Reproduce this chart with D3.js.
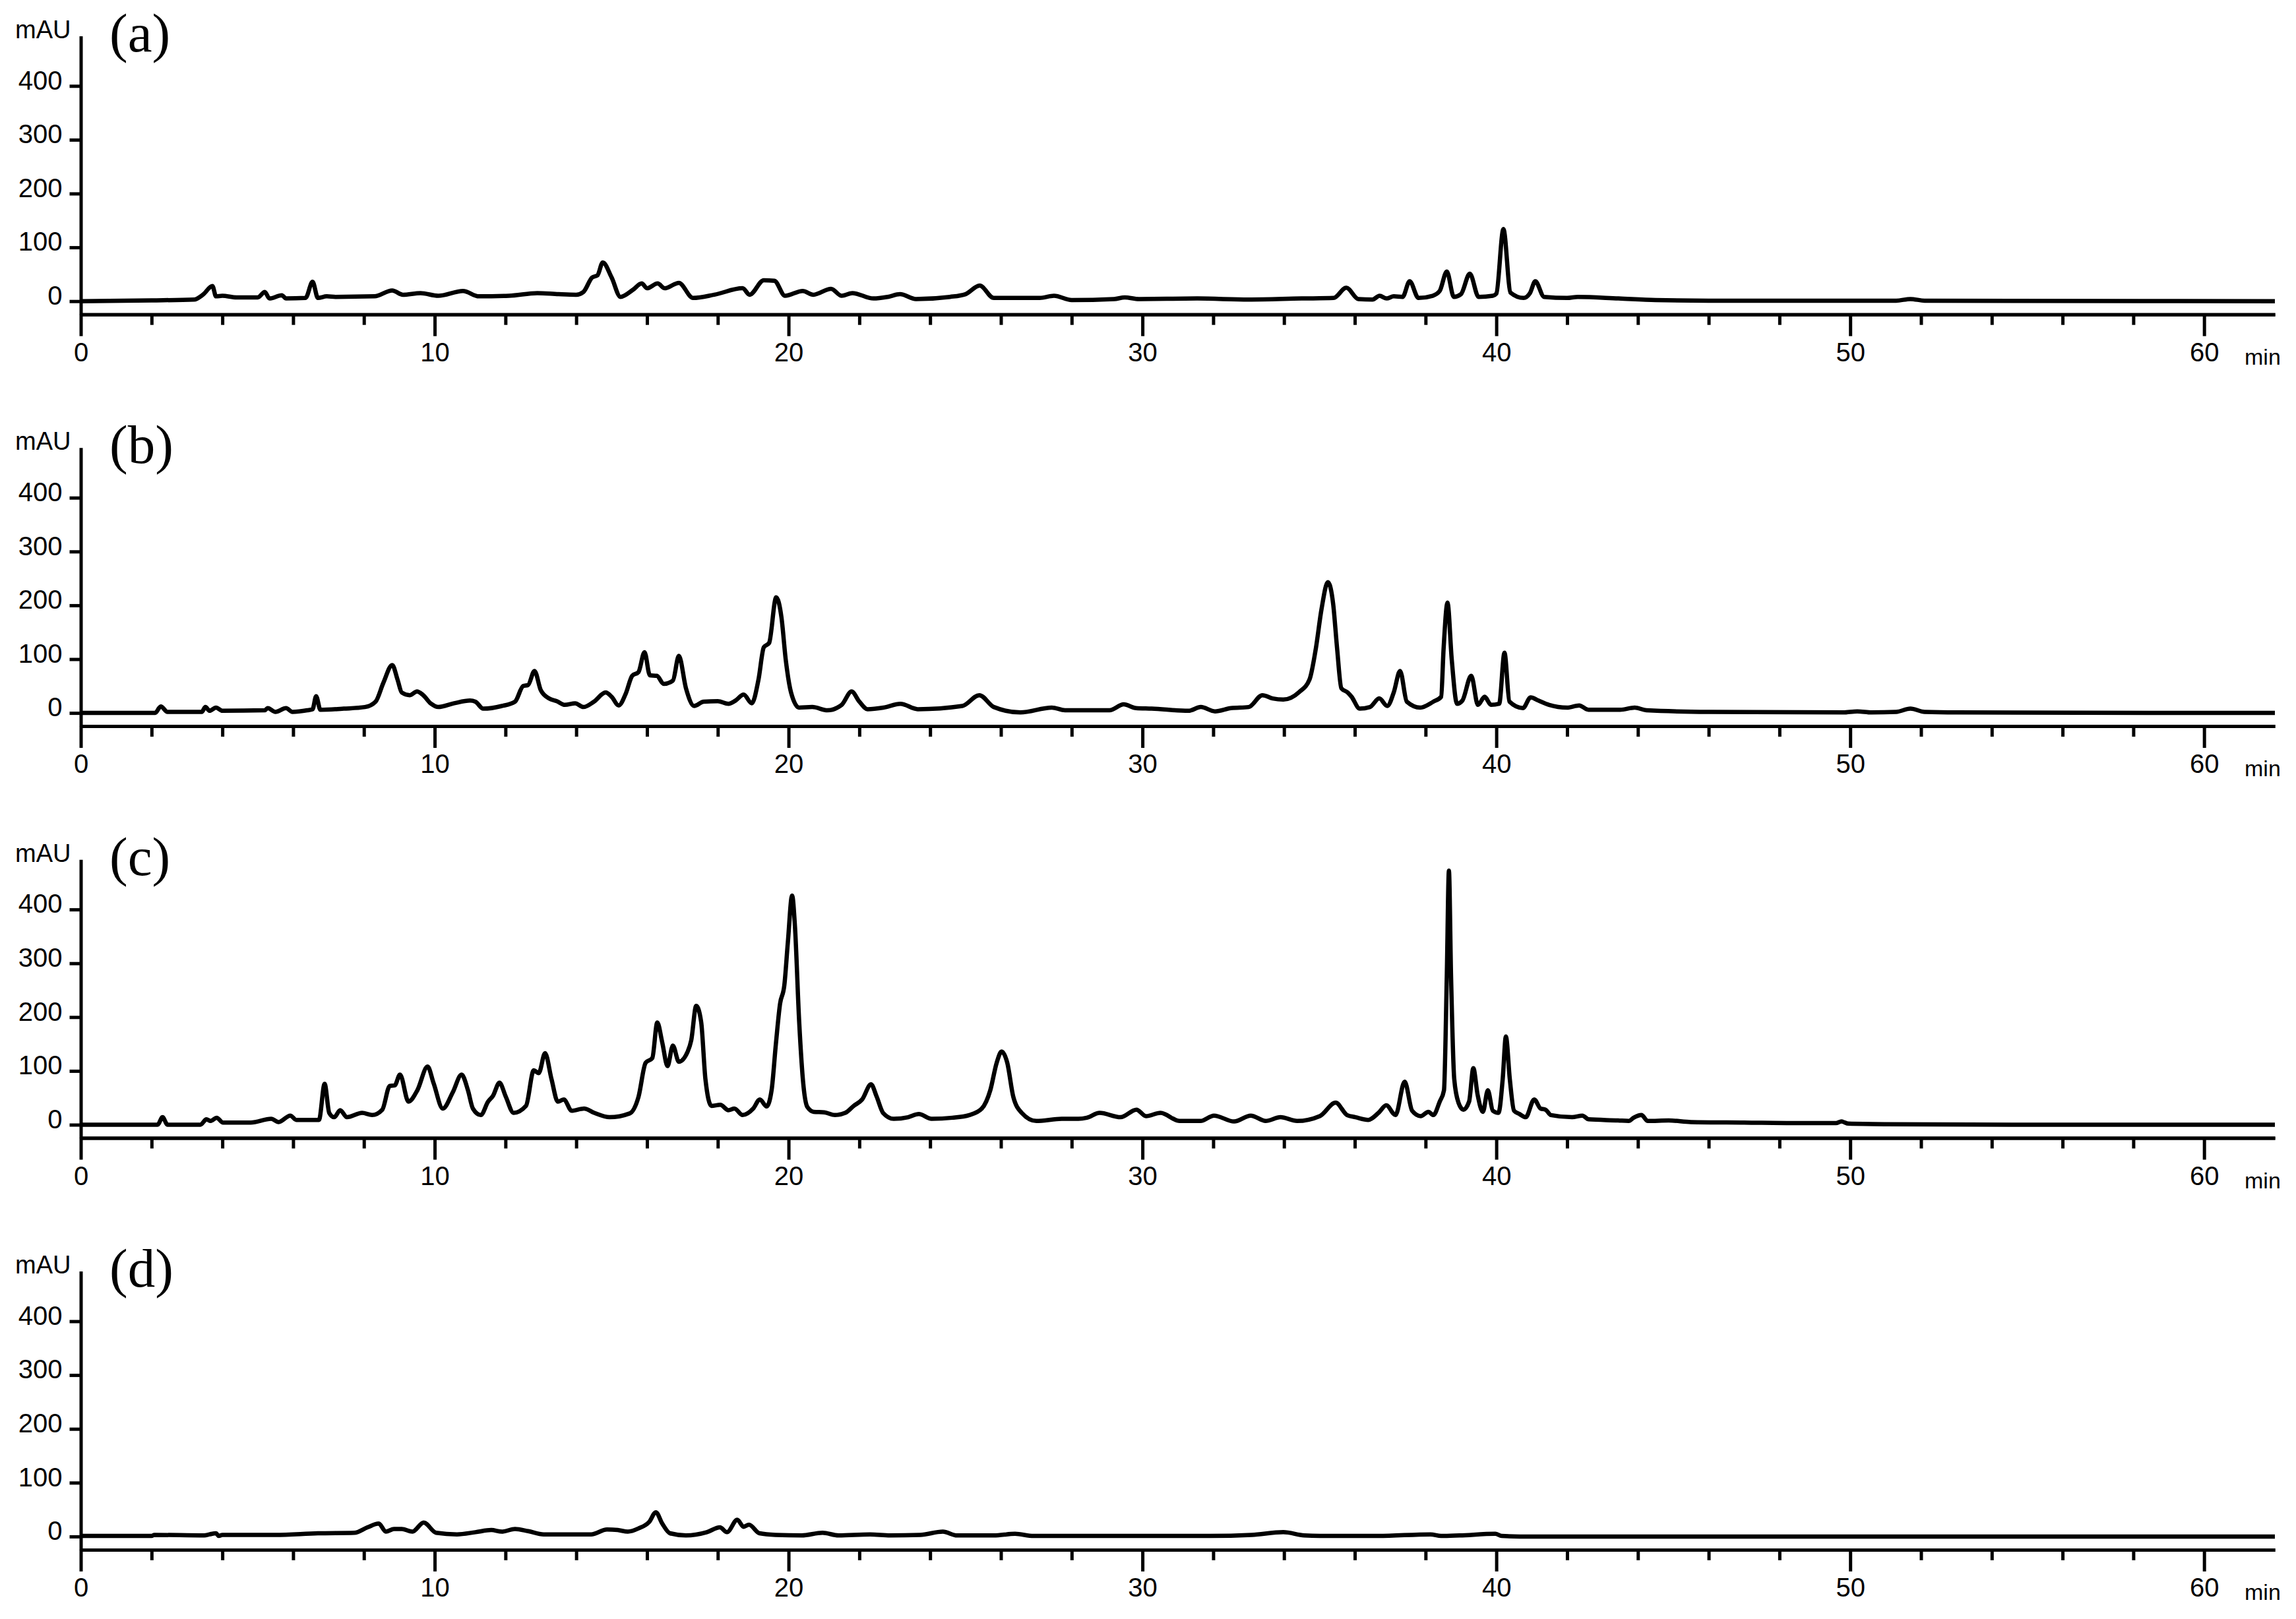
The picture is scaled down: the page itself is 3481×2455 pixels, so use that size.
<!DOCTYPE html>
<html>
<head>
<meta charset="utf-8">
<script src="https://cdn.jsdelivr.net/npm/d3@7"></script>
<style>
    body { margin: 0; background: #fff; }
    .axis path, .axis line { stroke: #000; stroke-width: 5; }
    .axis text { font-family: "Liberation Sans", Arial, sans-serif; font-size: 40px; fill: #000; }
    .trace { fill: none; stroke: #000; stroke-width: 6.5; stroke-linejoin: round; }
</style>
</head>
<body>
<svg width="3481" height="2455"></svg>
<script>
// [time (min), absorbance (mAU)]
var traceA = [[0,0],[2.0,1.5],[3.2,3],[3.45,12],[3.72,28],[3.82,9],[4.0,10],[4.4,7],[5.0,7],[5.2,17],[5.33,5],[5.68,11],[5.8,5],
    [6.35,6],[6.55,36],[6.7,6],[6.95,9],[7.2,8],[8.3,9],[8.8,20],[9.1,12],[9.6,15],[10.1,10],[10.8,19],[11.25,9],[12.1,10],
    [12.9,15],[13.5,13],[14.0,12],[14.2,17],[14.45,44],[14.6,48],[14.75,72],[15.0,44],[15.25,8],[15.6,21],[15.85,33],[16.0,24],
    [16.3,33],[16.5,24],[16.9,34],[17.3,6],[17.9,12],[18.7,24],[18.9,12],[19.3,39],[19.6,38],[19.9,10],[20.4,19],[20.7,12],
    [21.2,23],[21.5,10],[21.8,15],[22.4,5],[22.8,8],[23.15,13],[23.6,4],[24.56,8],[25.0,13],[25.4,29],[25.8,6],[27.1,6],
    [27.5,10],[28.0,2],[29.2,4],[29.5,7],[29.9,4],[31.55,5],[33.0,3],[34.5,5],[35.4,6],[35.76,25],[36.1,4],[36.5,3],[36.7,10],
    [36.9,5],[37.1,9],[37.35,8],[37.55,37],[37.8,6],[38.2,10],[38.4,19],[38.6,55],[38.8,8],[39.0,13],[39.25,51],[39.5,8],
    [39.9,10],[40.0,14],[40.2,134],[40.4,16],[40.77,6],[40.95,15],[41.1,37],[41.35,8],[42.0,6],[42.3,8],[43.45,5],[44.5,2],
    [46.0,1],[51.3,1],[51.7,4],[52.1,1],[62,0]];

var traceB = [[0,0],[2.1,0],[2.26,12],[2.45,2],[3.42,2],[3.52,11],[3.64,4],[3.82,10],[4.0,4],[5.2,5],[5.28,9],[5.5,2],[5.8,9],
    [5.98,2],[6.4,5],[6.55,7],[6.65,31],[6.77,6],[7.43,8],[8.03,11],[8.33,21],[8.55,56],[8.8,89],[8.95,62],[9.07,38],[9.3,33],
    [9.5,40],[9.66,34],[9.9,17],[10.1,11],[10.55,18],[11.0,23],[11.15,21],[11.37,8],[11.9,13],[12.27,21],[12.5,50],[12.64,52],
    [12.82,78],[13.0,42],[13.23,27],[13.45,22],[13.68,15],[13.97,18],[14.2,11],[14.5,21],[14.83,38],[15.0,30],[15.2,14],
    [15.4,36],[15.58,69],[15.76,76],[15.93,113],[16.08,70],[16.28,69],[16.47,54],[16.73,60],[16.9,106],[17.1,46],[17.33,13],
    [17.6,21],[18.0,22],[18.3,17],[18.5,23],[18.73,34],[18.96,18],[19.15,62],[19.3,122],[19.45,130],[19.65,215],[19.8,177],
    [19.92,99],[20.07,38],[20.3,10],[20.67,11],[21.1,5],[21.5,15],[21.78,40],[22.0,21],[22.23,7],[22.68,10],[23.16,17],
    [23.65,7],[24.91,13],[25.39,33],[25.8,11],[26.55,1],[27.44,10],[27.81,5],[29.07,5],[29.47,16],[29.82,9],[30.26,8],
    [31.3,4],[31.65,11],[32.05,3],[32.5,9],[33.0,11],[33.39,33],[33.68,27],[33.98,25],[34.43,39],[34.72,62],[34.9,120],
    [35.06,193],[35.24,243],[35.39,202],[35.5,120],[35.62,46],[35.8,38],[35.91,30],[36.14,8],[36.43,11],[36.69,27],
    [36.92,13],[37.1,38],[37.28,78],[37.47,21],[37.85,10],[38.22,21],[38.44,30],[38.51,120],[38.62,205],[38.74,99],
    [38.89,17],[39.04,23],[39.29,69],[39.48,15],[39.67,30],[39.85,15],[40.08,17],[40.23,112],[40.37,21],[40.75,9],
    [40.97,29],[41.19,23],[41.49,15],[42.0,10],[42.34,14],[42.6,6],[43.5,6],[43.91,10],[44.24,5],[46.0,2],[49.8,1],
    [50.2,3],[50.6,1],[51.3,2],[51.7,8],[52.1,2],[53,1],[62,0]];

var traceC = [[0,0],[2.17,0],[2.31,14],[2.45,0],[3.38,0],[3.55,10],[3.67,7],[3.84,13],[4.02,4],[4.8,4],[5.38,11],[5.59,5],
    [5.92,17],[6.09,9],[6.73,9],[6.89,76],[7.02,22],[7.16,14],[7.33,27],[7.52,14],[7.95,22],[8.23,18],[8.52,28],[8.73,72],
    [8.87,73],[9.02,93],[9.26,43],[9.51,64],[9.8,108],[9.97,77],[10.23,30],[10.51,60],[10.76,93],[10.94,64],[11.08,30],
    [11.3,18],[11.51,43],[11.65,54],[11.83,78],[12.01,52],[12.23,22],[12.58,35],[12.8,101],[12.94,96],[13.12,133],[13.3,85],
    [13.48,43],[13.65,47],[13.87,26],[14.22,30],[14.51,22],[14.94,14],[15.51,21],[15.76,52],[15.96,115],[16.15,124],
    [16.29,190],[16.43,153],[16.58,109],[16.73,147],[16.9,117],[17.15,136],[17.25,157],[17.39,221],[17.53,191],[17.65,85],
    [17.82,35],[18.07,37],[18.3,27],[18.47,30],[18.7,18],[19.0,30],[19.19,47],[19.38,34],[19.52,64],[19.64,149],[19.76,225],
    [19.88,259],[19.98,339],[20.1,426],[20.18,369],[20.3,191],[20.42,73],[20.53,33],[20.71,24],[21.01,23],[21.31,18],
    [21.6,22],[21.84,35],[22.08,47],[22.33,75],[22.49,52],[22.67,22],[22.97,11],[23.38,14],[23.68,20],[24.04,11],[24.63,13],
    [25.11,18],[25.46,30],[25.7,64],[25.88,115],[26.02,136],[26.18,115],[26.35,52],[26.59,22],[27.0,7],[27.72,11],
    [28.19,11],[28.43,13],[28.79,22],[29.38,14],[29.83,28],[30.1,16],[30.51,22],[31.05,7],[31.64,7],[32.02,17],[32.59,6],
    [33.06,17],[33.48,7],[33.9,14],[34.37,7],[35.01,16],[35.46,41],[35.78,18],[36.02,14],[36.38,9],[36.67,22],[36.89,36],
    [37.15,18],[37.41,80],[37.62,26],[37.86,16],[38.08,24],[38.22,18],[38.4,43],[38.52,64],[38.6,276],[38.66,472],
    [38.72,276],[38.81,85],[38.93,41],[39.07,28],[39.23,43],[39.35,105],[39.47,56],[39.62,24],[39.76,64],[39.9,26],
    [40.06,22],[40.18,85],[40.27,164],[40.38,85],[40.5,26],[40.65,20],[40.83,14],[41.07,47],[41.25,30],[41.39,28],
    [41.54,18],[42.14,14],[42.43,17],[42.61,10],[43.44,8],[43.74,7],[43.88,13],[44.1,18],[44.28,7],[44.87,8],[45.5,5],
    [47.0,4],[48.5,3],[49.6,3],[49.75,6],[49.95,2],[51.0,1],[55.0,0],[62,0]];

var traceD = [[0,1],[2.0,1],[2.08,3],[3.49,2],[3.64,4],[3.82,6],[3.9,1],[4.0,3],[5.5,3],[6.7,6],[7.73,7],[8.1,17],[8.42,24],
    [8.62,9],[8.85,14],[9.07,14],[9.37,9],[9.69,26],[10.04,7],[10.63,4],[11.15,8],[11.6,12],[11.9,9],[12.27,14],[12.64,10],
    [13.08,4],[14.42,4],[14.87,13],[15.17,12],[15.46,9],[15.76,15],[16.06,27],[16.25,45],[16.43,24],[16.65,6],[17.1,2],
    [17.69,8],[18.06,17],[18.26,8],[18.55,31],[18.73,18],[18.88,22],[19.18,6],[19.63,3],[20.37,2],[20.96,7],[21.41,2],
    [22.3,4],[22.87,2],[23.72,3],[24.36,9],[24.76,2],[25.8,2],[26.4,5],[26.92,1],[31.9,1],[33.09,3],[33.98,8],[34.57,2],
    [35.02,1],[36.66,1],[38.14,4],[38.44,1],[38.96,2],[39.97,5],[40.15,1],[41.0,0],[62,0]];

var traces = [traceA, traceB, traceC, traceD];
var panelLabels = ['(a)', '(b)', '(c)', '(d)'];
var yTicks = [0, 100, 200, 300, 400];
var xMajorTicks = [0, 10, 20, 30, 40, 50, 60];
var xMinorTicks = d3.range(2, 62, 2).filter(function (t) { return t % 10 !== 0; });

var svg = d3.select('svg');
svg.append('rect').attr('width', 3481).attr('height', 2455).attr('fill', '#fff');

// layout
var firstZero = 456.7;
var panelStep = 624.4;
var pxPerUnit = 0.816;
var yMin = -24.5, yMax = 493;

var xScale = d3.scaleLinear().domain([0, 62]).range([122.5, 3449]);

var line = d3.line()
    .x(function (d) { return xScale(d[0]); })
    .curve(d3.curveMonotoneX);

traces.forEach(function (trace, i) {
    var zero = firstZero + panelStep * i;
    var yScale = d3.scaleLinear()
        .domain([yMin, yMax])
        .range([zero - yMin * pxPerUnit, zero - yMax * pxPerUnit]);

    var g = svg.append('g').attr('class', 'panel');

    // y axis
    g.append('g')
        .attr('class', 'axis')
        .attr('transform', 'translate(' + xScale(0) + ',0)')
        .call(d3.axisLeft(yScale).tickValues(yTicks).tickSize(17).tickSizeOuter(0).tickPadding(11))
        .selectAll('text').attr('dy', '0.12em');

    // x axis: minor then major ticks
    var xAxisY = yScale(yMin);
    g.append('g')
        .attr('class', 'axis')
        .attr('transform', 'translate(0,' + xAxisY + ')')
        .call(d3.axisBottom(xScale).tickValues(xMinorTicks).tickSize(16).tickSizeOuter(0).tickFormat(''));
    g.append('g')
        .attr('class', 'axis')
        .attr('transform', 'translate(0,' + xAxisY + ')')
        .call(d3.axisBottom(xScale).tickValues(xMajorTicks).tickSize(33).tickSizeOuter(0).tickPadding(10));

    g.append('text')
        .text('min')
        .attr('x', 3403)
        .attr('y', zero + 96)
        .style('font-family', '"Liberation Sans", Arial, sans-serif')
        .style('font-size', '34px');

    g.append('text')
        .text('mAU')
        .attr('x', 23)
        .attr('y', zero - 399)
        .style('font-family', '"Liberation Sans", Arial, sans-serif')
        .style('font-size', '38px');

    g.append('text')
        .text(panelLabels[i])
        .attr('x', 166)
        .attr('y', zero - 379)
        .style('font-family', '"Liberation Serif", "Times New Roman", serif')
        .style('font-size', '83px');

    line.y(function (d) { return yScale(d[1]); });
    g.append('path')
        .datum(trace)
        .attr('class', 'trace')
        .attr('d', line);
});
</script>
</body>
</html>
